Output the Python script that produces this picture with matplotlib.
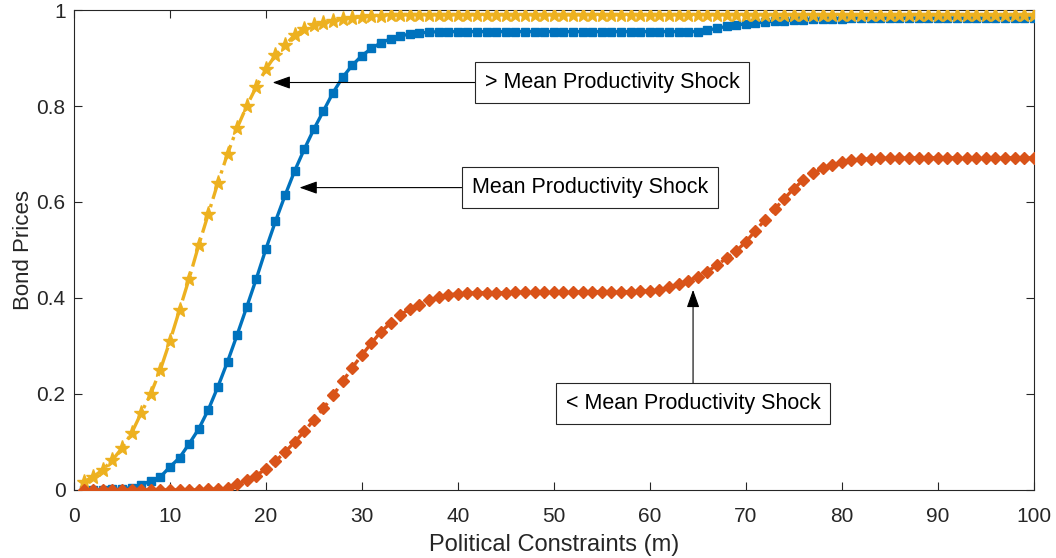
import numpy as np
import matplotlib
matplotlib.use("Agg")
import matplotlib.pyplot as plt

plt.rcParams["font.family"] = ["Liberation Sans", "DejaVu Sans"]

m = np.arange(1, 101)

# bond prices, > mean productivity shock
high = [0.017, 0.027, 0.042, 0.062, 0.087, 0.118, 0.160, 0.200, 0.250, 0.310,
        0.375, 0.440, 0.510, 0.575, 0.640, 0.700, 0.754, 0.800, 0.840, 0.877,
        0.906, 0.927, 0.948, 0.960, 0.968, 0.974, 0.978, 0.981, 0.984, 0.986,
        0.987, 0.988, 0.989, 0.990, 0.990, 0.990, 0.990, 0.990, 0.990, 0.990,
        0.990, 0.990, 0.990, 0.990, 0.990, 0.990, 0.990, 0.990, 0.990, 0.990,
        0.990, 0.990, 0.990, 0.990, 0.990, 0.990, 0.990, 0.990, 0.990, 0.990,
        0.990, 0.990, 0.990, 0.990, 0.990, 0.990, 0.990, 0.990, 0.990, 0.990,
        0.990, 0.990, 0.990, 0.990, 0.990, 0.990, 0.990, 0.990, 0.990, 0.990,
        0.990, 0.990, 0.990, 0.990, 0.990, 0.990, 0.990, 0.990, 0.990, 0.990,
        0.990, 0.990, 0.990, 0.990, 0.990, 0.990, 0.990, 0.990, 0.990, 0.990]

# bond prices, mean productivity shock
mean = [0.000, 0.000, 0.000, 0.001, 0.002, 0.005, 0.010, 0.019, 0.027, 0.048,
        0.067, 0.096, 0.127, 0.167, 0.215, 0.267, 0.323, 0.381, 0.440, 0.502,
        0.560, 0.614, 0.665, 0.710, 0.752, 0.790, 0.828, 0.860, 0.885, 0.905,
        0.920, 0.932, 0.940, 0.946, 0.950, 0.952, 0.954, 0.955, 0.955, 0.955,
        0.955, 0.955, 0.955, 0.955, 0.955, 0.955, 0.955, 0.955, 0.955, 0.955,
        0.955, 0.955, 0.955, 0.955, 0.955, 0.955, 0.955, 0.955, 0.955, 0.955,
        0.955, 0.955, 0.955, 0.955, 0.955, 0.958, 0.962, 0.966, 0.969, 0.971,
        0.973, 0.975, 0.977, 0.978, 0.979, 0.980, 0.981, 0.981, 0.982, 0.982,
        0.983, 0.983, 0.983, 0.983, 0.983, 0.983, 0.983, 0.983, 0.983, 0.983,
        0.983, 0.983, 0.983, 0.983, 0.983, 0.983, 0.983, 0.983, 0.983, 0.983]

# bond prices, < mean productivity shock
low = [0.000, 0.000, 0.000, 0.000, 0.000, 0.000, 0.000, 0.000, 0.000, 0.000,
       0.000, 0.000, 0.000, 0.001, 0.002, 0.004, 0.012, 0.020, 0.030, 0.044,
       0.060, 0.079, 0.100, 0.122, 0.146, 0.170, 0.197, 0.226, 0.255, 0.281,
       0.306, 0.330, 0.348, 0.365, 0.377, 0.386, 0.395, 0.401, 0.406, 0.409,
       0.410, 0.411, 0.411, 0.411, 0.411, 0.412, 0.412, 0.412, 0.412, 0.412,
       0.412, 0.412, 0.413, 0.413, 0.413, 0.413, 0.413, 0.413, 0.414, 0.415,
       0.417, 0.422, 0.429, 0.436, 0.444, 0.455, 0.469, 0.483, 0.498, 0.517,
       0.540, 0.563, 0.585, 0.607, 0.628, 0.646, 0.660, 0.670, 0.677, 0.683,
       0.687, 0.689, 0.690, 0.691, 0.691, 0.691, 0.692, 0.692, 0.692, 0.692,
       0.692, 0.692, 0.692, 0.692, 0.692, 0.692, 0.692, 0.692, 0.692, 0.692]

BLUE, ORANGE, YELLOW = "#0072BD", "#D95319", "#EDB120"
AX = "#262626"

fig = plt.figure(figsize=(10.56, 5.58), dpi=100)
ax = fig.add_axes([0.070, 0.122, 0.909, 0.860])

ax.plot(m, mean, "-", color=BLUE, lw=2.4, marker="s", ms=5.5, zorder=3)
ax.plot(m, high, "-.", color=YELLOW, lw=2.4, marker="*", ms=11, zorder=4)
ax.plot(m, low, "--", color=ORANGE, lw=2.4, marker="D", ms=6, zorder=5)

ax.set_xlim(0, 100); ax.set_ylim(0, 1)
ax.set_xticks(np.arange(0, 101, 10))
ax.set_yticks([0, 0.2, 0.4, 0.6, 0.8, 1])
ax.set_yticklabels(["0", "0.2", "0.4", "0.6", "0.8", "1"])
ax.tick_params(direction="in", top=True, right=True, length=6, width=0.8,
               labelsize=15, colors=AX)
ax.tick_params(axis="x", pad=12)
ax.tick_params(axis="y", pad=6)
for s in ax.spines.values():
    s.set_color(AX); s.set_linewidth(0.8)
ax.set_xlabel("Political Constraints (m)", fontsize=17, color=AX, labelpad=6)
ax.set_ylabel("Bond Prices", fontsize=16, color=AX, labelpad=2)

box = dict(boxstyle="square,pad=0.45", fc="white", ec=AX, lw=0.8)
arr = dict(arrowstyle="-|>,head_length=0.7,head_width=0.25", color="black", lw=0.8,
           shrinkA=0, shrinkB=0)
ax.annotate("> Mean Productivity Shock", xy=(20.7, 0.849), xytext=(56.1, 0.849),
            ha="center", va="center", fontsize=15.5, color="black", bbox=box, arrowprops=arr)
ax.annotate("Mean Productivity Shock", xy=(23.5, 0.630), xytext=(53.75, 0.630),
            ha="center", va="center", fontsize=15.5, color="black", bbox=box, arrowprops=arr)
ax.annotate("< Mean Productivity Shock", xy=(64.5, 0.417), xytext=(64.5, 0.18),
            ha="center", va="center", fontsize=15.5, color="black", bbox=box, arrowprops=arr)

fig.savefig("out.png", dpi=100)
